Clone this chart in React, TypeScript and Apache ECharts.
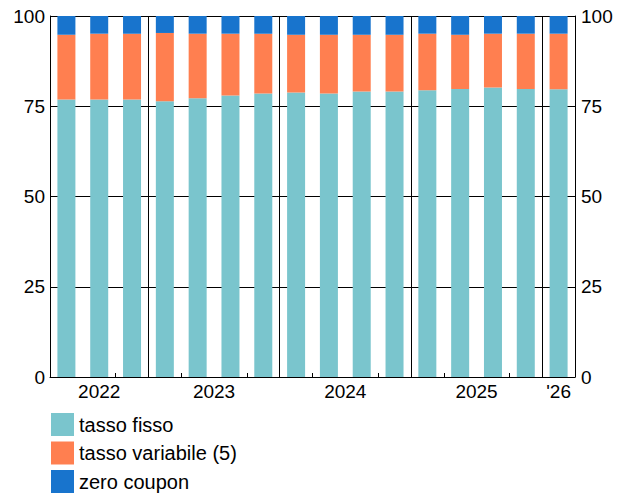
import React, { useEffect, useRef } from "react";
import * as echarts from "echarts";

const categories = [
  "2022 T2", "2022 T3", "2022 T4",
  "2023 T1", "2023 T2", "2023 T3", "2023 T4",
  "2024 T1", "2024 T2", "2024 T3", "2024 T4",
  "2025 T1", "2025 T2", "2025 T3", "2025 T4",
  "2026 T1",
];
const tassoFisso = [76.9, 76.9, 76.9, 76.4, 77.2, 78.0, 78.5, 78.8, 78.5, 79.1, 79.1, 79.4, 79.8, 80.2, 79.8, 79.7];
const tassoVariabile = [17.9, 18.2, 18.2, 18.9, 17.9, 17.1, 16.6, 16.0, 16.3, 15.7, 15.7, 15.7, 15.0, 14.9, 15.3, 15.4];
const zeroCoupon = [5.2, 4.9, 4.9, 4.7, 4.9, 4.9, 4.9, 5.2, 5.2, 5.2, 5.2, 4.9, 5.2, 4.9, 4.9, 4.9];
const yearLabels: [number, string][] = [[1.5, "2022"], [5, "2023"], [9, "2024"], [13, "2025"], [15.5, "'26"]];
const yearBoundaries = [3, 7, 11, 15];
const seriesNames = ["tasso fisso", "tasso variabile (5)", "zero coupon"];
const colors = ["#7AC5CD", "#FF7F50", "#1874CD"];

const FONT = "'Liberation Sans', Arial, sans-serif";

export default function App() {
  const ref = useRef<HTMLDivElement>(null);
  useEffect(() => {
    if (!ref.current) return;
    const chart = echarts.init(ref.current, undefined, { renderer: "svg" });
    const values = [tassoFisso, tassoVariabile, zeroCoupon];
    chart.setOption({
      animation: false,
      textStyle: { fontFamily: FONT },
      grid: { left: 50, right: 50, top: 16, bottom: 117, containLabel: false },
      legend: {
        orient: "vertical",
        left: 51,
        top: 413,
        padding: 0,
        itemWidth: 23,
        itemHeight: 23,
        itemGap: 5.5,
        icon: "rect",
        data: seriesNames,
        textStyle: { fontSize: 20, color: "#000", fontFamily: FONT },
      },
      xAxis: [
        {
          type: "category",
          data: categories,
          boundaryGap: true,
          axisLine: { show: true, lineStyle: { color: "#000", width: 1 } },
          axisTick: { show: true, inside: true, length: 4, lineStyle: { color: "#000" } },
          axisLabel: { show: false },
          splitLine: {
            show: true,
            interval: (i: number) => yearBoundaries.includes(i),
            lineStyle: { color: "#000", width: 1 },
          },
        },
        {
          type: "value",
          min: 0,
          max: 16,
          interval: 0.5,
          position: "bottom",
          axisLine: { show: false },
          axisTick: { show: false },
          splitLine: { show: false },
          axisLabel: {
            show: true,
            margin: 5,
            fontSize: 19,
            color: "#000",
            fontFamily: FONT,
            formatter: (v: number) => {
              const f = yearLabels.find((y) => Math.abs(y[0] - v) < 1e-6);
              return f ? f[1] : "";
            },
          },
        },
      ],
      yAxis: [
        {
          type: "value",
          min: 0,
          max: 100,
          interval: 25,
          position: "left",
          axisLine: { show: true, lineStyle: { color: "#000" } },
          axisTick: { show: false },
          axisLabel: { margin: 5, fontSize: 19, color: "#000", fontFamily: FONT },
          splitLine: { show: true, lineStyle: { color: "#000", width: 1 } },
        },
        {
          type: "value",
          min: 0,
          max: 100,
          interval: 25,
          position: "right",
          axisLine: { show: true, lineStyle: { color: "#000" } },
          axisTick: { show: false },
          axisLabel: { margin: 6, fontSize: 19, color: "#000", fontFamily: FONT },
          splitLine: { show: false },
        },
      ],
      series: seriesNames.map((name, i) => ({
        name,
        type: "bar",
        stack: "total",
        xAxisIndex: 0,
        yAxisIndex: 0,
        barWidth: 18,
        itemStyle: { color: colors[i] },
        data: values[i],
      })),
    });
    return () => chart.dispose();
  }, []);
  return (
    <div
      ref={ref}
      style={{ position: "fixed", left: 0, top: 0, width: 625, height: 494, background: "#fff" }}
    />
  );
}
